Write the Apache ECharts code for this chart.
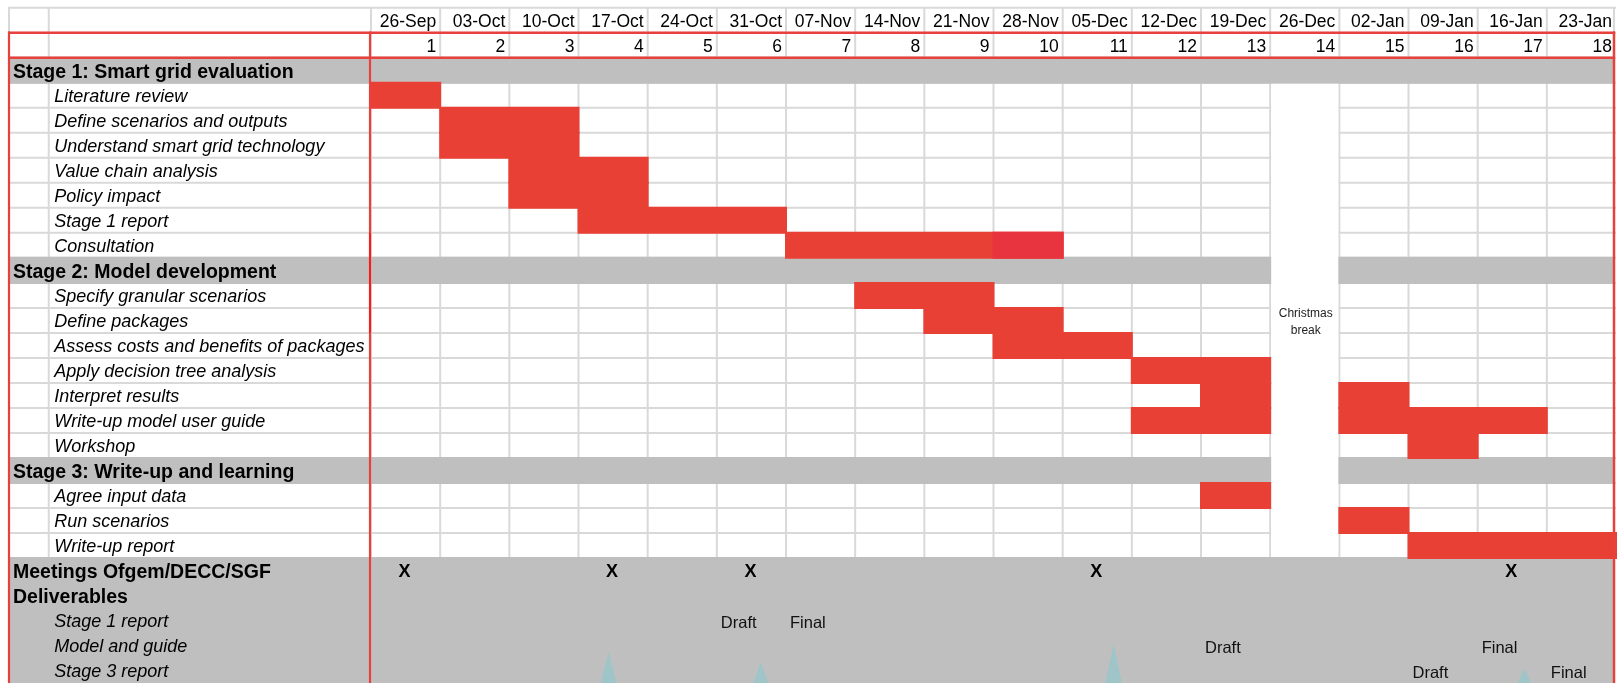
<!DOCTYPE html>
<html>
<head>
<meta charset="utf-8">
<script src="https://cdn.jsdelivr.net/npm/echarts@6/dist/echarts.min.js"></script>
<style>
html,body{margin:0;padding:0;background:#fff;}
#chart{width:1619px;height:683px;}
</style>
</head>
<body>
<div id="chart"></div>
<script>
// ---------------- DATA ----------------
const weekDates = ['26-Sep','03-Oct','10-Oct','17-Oct','24-Oct','31-Oct','07-Nov','14-Nov','21-Nov',
  '28-Nov','05-Dec','12-Dec','19-Dec','26-Dec','02-Jan','09-Jan','16-Jan','23-Jan'];
const weekNumbers = [1,2,3,4,5,6,7,8,9,10,11,12,13,14,15,16,17,18];

const rowLabels = [
  'Stage 1: Smart grid evaluation',
  'Literature review',
  'Define scenarios and outputs',
  'Understand smart grid technology',
  'Value chain analysis',
  'Policy impact',
  'Stage 1 report',
  'Consultation',
  'Stage 2: Model development',
  'Specify granular scenarios',
  'Define packages',
  'Assess costs and benefits of packages',
  'Apply decision tree analysis',
  'Interpret results',
  'Write-up model user guide',
  'Workshop',
  'Stage 3: Write-up and learning',
  'Agree input data',
  'Run scenarios',
  'Write-up report',
  'Meetings Ofgem/DECC/SGF',
  'Deliverables',
  'Stage 1 report',
  'Model and guide',
  'Stage 3 report'
];
const rowKinds = [
  'stage','task','task','task','task','task','task','task',
  'stage','task','task','task','task','task','task','task',
  'stage','task','task','task',
  'head','head','sub','sub','sub'
];

// [task, first week, last week]
const taskBars = [
  ['Literature review', 1, 1],
  ['Define scenarios and outputs', 2, 3],
  ['Understand smart grid technology', 2, 3],
  ['Value chain analysis', 3, 4],
  ['Policy impact', 3, 4],
  ['Stage 1 report', 4, 6],
  ['Consultation', 7, 10],
  ['Specify granular scenarios', 8, 9],
  ['Define packages', 9, 10],
  ['Assess costs and benefits of packages', 10, 11],
  ['Apply decision tree analysis', 12, 13],
  ['Interpret results', 13, 13],
  ['Interpret results', 15, 15],
  ['Write-up model user guide', 12, 13],
  ['Write-up model user guide', 15, 17],
  ['Workshop', 16, 16],
  ['Agree input data', 13, 13],
  ['Run scenarios', 15, 15],
  ['Write-up report', 16, 18]
];
// cells with the second red shade: [task, week]
const highlightCells = [['Consultation', 10]];

const meetingWeeks = [1, 4, 6, 11, 17];
const meetingMark = 'X';

// [deliverable, label, week]
const deliverableMarks = [
  ['Stage 1 report', 'Draft', 6],
  ['Stage 1 report', 'Final', 7],
  ['Model and guide', 'Draft', 13],
  ['Model and guide', 'Final', 17],
  ['Stage 3 report', 'Draft', 16],
  ['Stage 3 report', 'Final', 18]
];

const breakWeek = 14;
const breakLabel = 'Christmas\nbreak';
const breakRows = ['Literature review', 'Write-up report'];

// teal spike markers at the bottom: [week position, row position of the tip]
const spikeTips = [[3.45, 25.77], [5.65, 26.17], [10.75, 25.44], [16.69, 26.41]];

// ---------------- LAYOUT / STYLE ----------------
const FIRST_ROW = 2;          // rowLabels start at table row 2 (row 0 = dates, row 1 = numbers)
const ROWS = 27;
const NW = weekDates.length;
const COL_A = -5.234;         // left edge of label column A (in week units)
const COL_B = -4.645;         // left edge of label column B
const FONT = '"Liberation Sans", Arial, Helvetica, sans-serif';
const RED_LINE = '#E8403A';
const RED_BRIGHT = '#FF1A1A';
const BAR = '#E94035';
const BAR_ALT = '#E8343F';
const GRAY = '#BFBFBF';
const GRID_LINE = '#D9D9D9';
const TEAL = '#9FC5C8';

function rowOf(name, last) {
  const i = last ? rowLabels.lastIndexOf(name) : rowLabels.indexOf(name);
  return FIRST_ROW + i;
}
function line(x1, y1, x2, y2, stroke, w) {
  return { type: 'line', shape: { x1, y1, x2, y2 }, style: { stroke, lineWidth: w } };
}
function rect(x, y, w, h, fill) {
  return { type: 'rect', shape: { x, y, width: w, height: h }, style: { fill } };
}
function text(x, y, str, opt) {
  return {
    type: 'text', x, y,
    style: Object.assign({
      text: str, fill: '#000', fontFamily: FONT, fontSize: 18,
      align: 'left', verticalAlign: 'middle'
    }, opt)
  };
}
function single(z, build) {
  return {
    type: 'custom', coordinateSystem: 'cartesian2d', z, silent: true, animation: false,
    data: [0], clip: false,
    renderItem: (p, api) => ({ type: 'group', children: build(api) })
  };
}

const chart = echarts.init(document.getElementById('chart'), null, { renderer: 'canvas' });

const X = (api, v) => api.coord([v, 0])[0];
const Y = (api, v) => api.coord([0, v])[1];

// gridlines
const gridSeries = single(1, api => {
  const ch = [];
  const x0 = X(api, COL_A), x1 = X(api, NW) + 1;
  for (let r = 0; r <= 22; r++) ch.push(line(x0, Y(api, r), x1, Y(api, r), GRID_LINE, 2));
  const y0 = Y(api, 0), y1 = Y(api, 22);
  ch.push(line(x0 + 1, y0, x0 + 1, y1, GRID_LINE, 2));
  ch.push(line(X(api, COL_B), y0, X(api, COL_B), y1, GRID_LINE, 2));
  for (let w = 0; w <= NW; w++) {
    const x = X(api, w) + (w === NW ? -1 : 1);
    ch.push(line(x, y0, x, y1, GRID_LINE, 2));
  }
  return ch;
});

// gray bands
const bandSeries = single(2, api => {
  const ch = [];
  const x0 = X(api, COL_A), x1 = X(api, NW);
  rowKinds.forEach((k, i) => {
    const r = FIRST_ROW + i;
    if (k === 'stage') ch.push(rect(x0, Y(api, r) - 1, x1 - x0, Y(api, r + 1) - Y(api, r) + 2, GRAY));
  });
  const firstHead = FIRST_ROW + rowKinds.indexOf('head');
  ch.push(rect(x0, Y(api, firstHead) - 1, x1 - x0, Y(api, ROWS + 1) - Y(api, firstHead), GRAY));
  return ch;
});

// Christmas break column
const breakSeries = single(3, api => {
  const r0 = rowOf(breakRows[0]), r1 = rowOf(breakRows[1]) + 1;
  const xa = X(api, breakWeek - 1) + 2, xb = X(api, breakWeek);
  const ya = Y(api, r0) + 1, yb = Y(api, r1) - 1;
  return [
    rect(xa, ya, xb - xa, yb - ya, '#fff'),
    text((xa + xb) / 2 + 1, Y(api, 12.5) + 2, breakLabel, {
      fontSize: 12, align: 'center', lineHeight: 17, fill: '#222'
    })
  ];
});

// task bars
const barData = taskBars.map(([n, s, e]) => [s - 1, e, rowOf(n), 0])
  .concat(highlightCells.map(([n, w]) => [w - 1, w, rowOf(n), 1]));
const barSeries = {
  type: 'custom', coordinateSystem: 'cartesian2d', z: 4, silent: true, animation: false,
  data: barData,
  encode: { x: [0, 1], y: 2 },
  renderItem: (p, api) => {
    const a = api.coord([api.value(0), api.value(2)]);
    const b = api.coord([api.value(1), api.value(2) + 1]);
    return {
      type: 'rect',
      shape: { x: a[0], y: a[1] - 1, width: b[0] - a[0] + 2, height: b[1] - a[1] + 2 },
      style: { fill: api.value(3) ? BAR_ALT : BAR }
    };
  }
};

// red frame
const frameSeries = single(5, api => {
  const ch = [];
  const x0 = X(api, COL_A), x1 = X(api, NW);
  [1, 2].forEach(r => ch.push(line(x0, Y(api, r), x1, Y(api, r), RED_LINE, 2.5)));
  const ya = Y(api, 1) - 1.25, yb = Y(api, ROWS + 1);
  ch.push(line(x0 + 1, ya, x0 + 1, yb, RED_LINE, 2.2));
  ch.push(line(X(api, 0), ya, X(api, 0), yb, RED_LINE, 2.2));
  ch.push(line(X(api, 0), Y(api, 9), X(api, 0), Y(api, 13), RED_BRIGHT, 2));
  ch.push(line(x1 - 1, ya, x1 - 1, yb, RED_LINE, 2.5));
  return ch;
});

// spikes
const spikeSeries = {
  type: 'custom', coordinateSystem: 'cartesian2d', z: 5, silent: true, animation: false,
  data: spikeTips, clip: false,
  renderItem: (p, api) => {
    const t = api.coord([api.value(0), api.value(1)]);
    const baseY = Y(api, ROWS + 0.23);
    return {
      type: 'polygon',
      shape: { points: [[t[0], t[1]], [t[0] + 9.5, baseY], [t[0] - 9.5, baseY]] },
      style: { fill: TEAL }
    };
  }
};

// texts
const textSeries = single(6, api => {
  const ch = [];
  weekDates.forEach((d, i) => {
    ch.push(text(X(api, i + 1) - 3, Y(api, 0.5) + 1.5, d, { align: 'right', fontSize: 17.5 }));
  });
  weekNumbers.forEach((n, i) => {
    ch.push(text(X(api, i + 1) - 3, Y(api, 1.5) + 1.5, String(n), { align: 'right', fontSize: 17.5 }));
  });
  rowLabels.forEach((lab, i) => {
    const r = FIRST_ROW + i, k = rowKinds[i];
    if (k === 'stage' || k === 'head') {
      ch.push(text(X(api, COL_A) + 5, Y(api, r + 0.5) + 2, lab, { fontSize: 19.5, fontWeight: 'bold' }));
    } else {
      ch.push(text(X(api, COL_B) + 5.5, Y(api, r + 0.5) + 1.5, lab, { fontStyle: 'italic' }));
    }
  });
  const mRow = FIRST_ROW + rowKinds.indexOf('head');
  meetingWeeks.forEach(w => {
    ch.push(text(X(api, w - 0.5), Y(api, mRow + 0.5) + 1.7, meetingMark,
      { fontSize: 18, fontWeight: 'bold', align: 'center' }));
  });
  deliverableMarks.forEach(([d, lab, w]) => {
    const r = rowOf(d, true);
    ch.push(text(X(api, w - 1) + 5, Y(api, r + 0.5) + 3, lab, { fontSize: 16.5, fill: '#111' }));
  });
  return ch;
});

chart.setOption({
  animation: false,
  backgroundColor: '#fff',
  grid: { left: 8, width: 1607, top: 7.8, height: ROWS * 25.05, containLabel: false },
  xAxis: { type: 'value', min: COL_A, max: NW, show: false },
  yAxis: { type: 'value', min: 0, max: ROWS, inverse: true, show: false },
  series: [gridSeries, bandSeries, breakSeries, barSeries, frameSeries, spikeSeries, textSeries]
});
</script>
</body>
</html>
